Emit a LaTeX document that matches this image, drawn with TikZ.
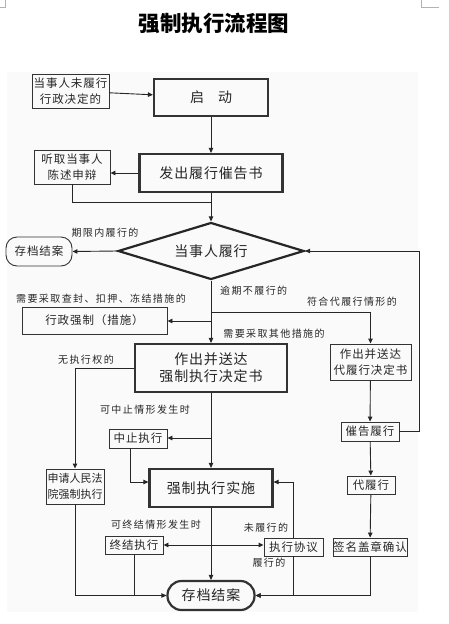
\documentclass[tikz,border=0pt]{standalone}
\usepackage{fontspec}
\setmainfont{Noto Sans CJK SC}
\usetikzlibrary{arrows.meta,positioning,shapes.geometric,calc}

\begin{document}
\begin{tikzpicture}[
  x=1pt,y=-1pt,
  box/.style={rectangle,draw=black!80,line width=0.9pt,align=center,inner sep=0pt,text=black!85,font=\fontsize{11.5}{16.5}\selectfont\addfontfeatures{LetterSpace=8}},
  bbox/.style={box,line width=2.2pt,font=\fontsize{14}{17}\selectfont\addfontfeatures{LetterSpace=6}},
  endbox/.style={box,rounded corners=11pt},
  lbl/.style={inner sep=0pt,text=black!85,font=\fontsize{10}{12}\selectfont\addfontfeatures{LetterSpace=14}},
  arr/.style={-{Triangle[length=5pt,width=4.5pt]},line width=0.9pt,draw=black!85}
]
\useasboundingbox (0,0) rectangle (449,624);
\fill[black!2] (7,72) rectangle (418,612);
\draw[black!30,line width=0.6pt] (5,0) -- (5,7) -- (0,7);
\draw[black!30,line width=0.6pt] (421,0) -- (421,7) -- (439,7);

\node[font=\fontsize{21.5}{24}\selectfont\bfseries] (title) at (214,23) {强制执行流程图};

\node[box,minimum width=77pt,minimum height=34pt] (weilvxing) at (70.5,91) {当事人未履行\\行政决定的};
\node[bbox,minimum width=114pt,minimum height=37pt] (qidong) at (211,97.5) {启\quad 动};
\node[bbox,minimum width=143pt,minimum height=38pt] (cuigao) at (211,173) {发出履行催告书};
\node[box,minimum width=76pt,minimum height=34pt] (tingqu) at (72,167) {听取当事人\\陈述申辩};
\coordinate (j1) at (211,202);
\node[diamond,aspect=3.26,draw=black!85,line width=2.2pt,inner sep=0pt,minimum width=186pt,minimum height=57pt,text=black!85,font=\fontsize{14}{17}\selectfont\addfontfeatures{LetterSpace=6}] (lvxing) at (211,251) {当事人履行};
\node[endbox,minimum width=66pt,minimum height=29pt] (cundang) at (39,251.5) {存档结案};
\node[box,minimum width=145pt,minimum height=27pt] (qiangzhi) at (94.5,320.5) {行政强制（措施）};
\coordinate (j2) at (211,312);
\coordinate (j3) at (211,321);
\node[bbox,minimum width=152pt,minimum height=48pt] (jueding) at (211,368) {作出并送达\\强制执行决定书};
\node[box,minimum width=81pt,minimum height=36pt] (daijueding) at (370.5,362) {作出并送达\\代履行决定书};
\coordinate (j4) at (211,438);
\node[box,minimum width=58pt,minimum height=19pt] (zhongzhi) at (138,438.5) {中止执行};
\node[box,minimum width=58pt,minimum height=35pt,font=\fontsize{11}{16.5}\selectfont] (shenqing) at (75,486.5) {申请人民法\\院强制执行};
\node[bbox,minimum width=123pt,minimum height=38pt] (shishi) at (211,488) {强制执行实施};
\node[box,minimum width=58pt,minimum height=18pt] (zhongjie) at (134,545) {终结执行};
\node[box,minimum width=59pt,minimum height=18pt] (xieyi) at (293.5,547) {执行协议};
\node[endbox,line width=2.2pt,rounded corners=14pt,minimum width=87pt,minimum height=29pt,font=\fontsize{14}{17}\selectfont\addfontfeatures{LetterSpace=6}] (jiean) at (211,595.5) {存档结案};
\node[box,minimum width=58pt,minimum height=19pt] (cuigaolx) at (370,431.5) {催告履行};
\node[box,minimum width=48pt,minimum height=18pt] (dailx) at (371,485) {代履行};
\node[box,minimum width=74pt,minimum height=18pt] (qianming) at (370,547) {签名盖章确认};

\node[lbl] (l1) at (105,233) {期限内履行的};
\node[lbl] (l2) at (101,299) {需要采取查封、扣押、冻结措施的};
\node[lbl,anchor=west] (l3) at (220,291) {逾期不履行的};
\node[lbl] (l4) at (352,302) {符合代履行情形的};
\node[lbl] (l5) at (274,334) {需要采取其他措施的};
\node[lbl] (l6) at (86,360) {无执行权的};
\node[lbl] (l7) at (145,410) {可中止情形发生时};
\node[lbl] (l8) at (156,525) {可终结情形发生时};
\node[lbl] (l9) at (266,528) {未履行的};
\node[lbl] (l10) at (269,563) {履行的};

\draw[arr] (weilvxing) -- (qidong);
\draw[arr] (qidong) -- (cuigao);
\draw[arr] (cuigao.west) -- (cuigao.west -| tingqu.east);
\draw[arr] (cuigao) -- (lvxing);
\draw[line width=0.9pt,black!85] (tingqu.south) |- (j1);
\draw[arr] (lvxing.west) -- (cundang.east);
\draw[arr] (lvxing) -- (jueding);
\draw[arr] (j2) -| (daijueding.north);
\draw[arr] (j3) -- (j3 -| qiangzhi.east);
\draw[arr] (jueding.west) -| (shenqing.north);
\draw[arr] (jueding) -- (shishi);
\draw[arr] (j4) -- (j4 -| zhongzhi.east);
\draw[arr] ([xshift=-8pt]zhongzhi.south) |- ([yshift=6pt]shishi.west);
\draw[arr] (shishi) -- (jiean);
\draw[arr,{Triangle[length=5pt,width=4.5pt]}-{Triangle[length=5pt,width=4.5pt]}] (zhongjie.east) -- (zhongjie.east -| xieyi.west);
\draw[arr] (xieyi.north) |- ([yshift=6pt]shishi.east);
\draw[arr] (xieyi.south) |- (jiean.east);
\draw[arr] (shenqing.south) |- (jiean.west);
\draw[line width=0.9pt,black!85] (zhongjie.south) -- (zhongjie.south |- jiean.west);
\draw[arr] (daijueding) -- (cuigaolx);
\draw[arr] (cuigaolx) -- (dailx);
\draw[arr] (dailx) -- (qianming);
\draw[arr] (qianming.south) |- (jiean.east);
\draw[arr] (cuigaolx.east) -- ++(20,0) |- (lvxing.east);
\end{tikzpicture}
\end{document}
